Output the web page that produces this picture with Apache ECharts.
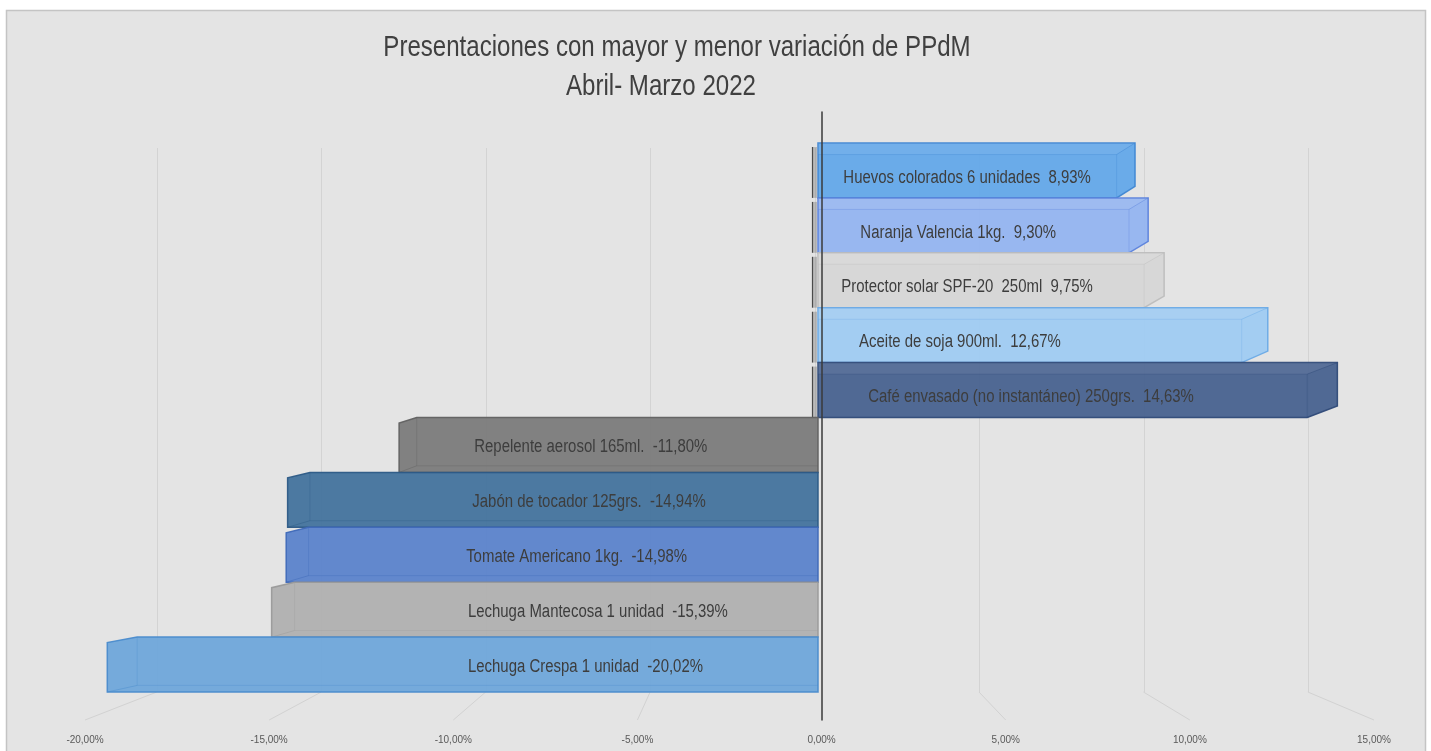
<!DOCTYPE html>
<html>
<head>
<meta charset="utf-8">
<script src="https://cdn.jsdelivr.net/npm/echarts@6/dist/echarts.min.js"></script>
<style>
html,body{margin:0;padding:0;background:#fff;}
#c{width:1431px;height:751px;}
</style>
</head>
<body>
<div id="c"></div>
<script>
// ---- data ----
const categories = [
  "Huevos colorados 6 unidades",
  "Naranja Valencia 1kg.",
  "Protector solar SPF-20  250ml",
  "Aceite de soja 900ml.",
  "Café envasado (no instantáneo) 250grs.",
  "Repelente aerosol 165ml.",
  "Jabón de tocador 125grs.",
  "Tomate Americano 1kg.",
  "Lechuga Mantecosa 1 unidad",
  "Lechuga Crespa 1 unidad"
];
const values = [8.93, 9.30, 9.75, 12.67, 14.63, -11.80, -14.94, -14.98, -15.39, -20.02];
const tickValues = [-20, -15, -10, -5, 0, 5, 10, 15];
const titleLines = ["Presentaciones con mayor y menor variación de PPdM", "Abril- Marzo 2022"];

// ---- styles / layout ----
const fills   = ['#63a8e9','#94b4f0','#d6d6d6','#9fcbf2','#48628f','#7b7b7b','#43739d','#5b83cb','#b0b0b0','#6fa6da'];
const borders = ['#3f86d2','#5b82dc','#bdbdbd','#6aaae6','#2f4a78','#616161','#2c5a86','#3f69b8','#9a9a9a','#4a8bcc'];
// where each data label is centred, in axis units (label placement only)
const labelAnchor = [4.2, 3.95, 4.2, 4.0, 6.0, -6.4, -6.45, -6.8, -6.2, -6.55];
const FONT = "'Liberation Sans',Arial,sans-serif";
const NARROW = 0.83;

function fmt(v){ return v.toFixed(2).replace('.', ',') + '%'; }

function renderBar(params, api){
  const i = params.dataIndex;
  const v = api.value(0);
  const c = api.value(1);
  const p0 = api.coord([0, c]);
  const p1 = api.coord([v, c]);
  const bh = api.size([0, 1])[1];
  const yT = p0[1] - bh/2, yB = p0[1] + bh/2;
  const x0 = p0[0], xE = p1[0];
  const len = Math.abs(xE - x0);
  const fill = fills[i], stroke = borders[i];
  const children = [];
  const text = categories[i] + '  ' + fmt(v);
  let ly;
  if (v >= 0) {
    const dx = len * 0.058, d = bh * 0.21;
    children.push({type:'polygon', shape:{points:[[x0,yT],[xE,yT],[xE,yB-d],[xE-dx,yB],[x0,yB]]},
      style:{fill:fill, stroke:stroke, lineWidth:1.5, opacity:0.95}});
    children.push({type:'polygon', shape:{points:[[x0,yT],[xE,yT],[xE-dx,yT+d],[x0,yT+d]]},
      style:{fill:'rgba(255,255,255,0.06)', stroke:'none'}});
    children.push({type:'polyline', shape:{points:[[x0,yT+d],[xE-dx,yT+d],[xE-dx,yB]]},
      style:{fill:'none', stroke:stroke, lineWidth:1, opacity:0.3}});
    children.push({type:'line', shape:{x1:xE-dx,y1:yT+d,x2:xE,y2:yT},
      style:{stroke:stroke, lineWidth:1, opacity:0.45}});
    children.push({type:'rect', shape:{x:x0-5,y:yT+4,width:4,height:yB-yT-4},
      style:{fill:'rgba(60,60,60,0.25)', stroke:'none'}});
    children.push({type:'line', shape:{x1:x0-5.5,y1:yT+4,x2:x0-5.5,y2:yB},
      style:{stroke:'#4a4a4a', lineWidth:1.2}});
    ly = (yT + d + yB) / 2 + 1.5;
  } else {
    const dx = len * 0.042, dT = bh * 0.1, dB = bh * 0.12;
    children.push({type:'polygon', shape:{points:[[x0,yT],[xE+dx,yT],[xE,yT+dT],[xE,yB],[x0,yB]]},
      style:{fill:fill, stroke:stroke, lineWidth:1.5, opacity:0.95}});
    children.push({type:'polyline', shape:{points:[[xE+dx,yT],[xE+dx,yB-dB],[x0,yB-dB]]},
      style:{fill:'none', stroke:stroke, lineWidth:1, opacity:0.3}});
    children.push({type:'line', shape:{x1:xE+dx,y1:yB-dB,x2:xE,y2:yB},
      style:{stroke:stroke, lineWidth:1, opacity:0.45}});
    ly = (yT + yB) / 2 + 2;
  }
  const lx = api.coord([labelAnchor[i], c])[0];
  children.push({type:'text', x:lx, y:ly, scaleX:NARROW,
    style:{text:text, x:0, y:0, align:'center', verticalAlign:'middle', fill:'#3d3d3d', font:'18px ' + FONT}});
  return {type:'group', children:children};
}

function renderPersp(params, api){
  const v = api.value(0);
  const f = api.coord([v, 0]);
  const z = api.coord([0, 0]);
  const bx = z[0] + (f[0] - z[0]) * 0.893 - 7;
  return {type:'line', shape:{x1:bx, y1:f[1]-28, x2:f[0], y2:f[1]},
    style:{stroke:'#d2d2d2', lineWidth:1}};
}

const chart = echarts.init(document.getElementById('c'), null, {renderer:'canvas'});
chart.setOption({
  backgroundColor:'#ffffff',
  animation:false,
  graphic:[
    {type:'rect', z:-10, shape:{x:6.5,y:10.5,width:1419,height:745},
      style:{fill:'#e4e4e4', stroke:'#c4c4c4', lineWidth:1.5}},
    {type:'text', z:10, x:677, y:48, scaleX:NARROW,
      style:{text:titleLines[0], x:0, y:0, align:'center', verticalAlign:'middle', font:'29px ' + FONT, fill:'#404040'}},
    {type:'text', z:10, x:661, y:87, scaleX:NARROW,
      style:{text:titleLines[1], x:0, y:0, align:'center', verticalAlign:'middle', font:'29px ' + FONT, fill:'#404040'}}
  ],
  grid:[
    {left:108, right:80.5, top:143, bottom:59},   // bars
    {left:85, right:57, top:112, bottom:31},      // front axis & labels
    {left:157, right:122.5, top:148, bottom:59}   // back gridlines
  ],
  xAxis:[
    {gridIndex:0, type:'value', min:-20, max:15, show:false},
    {gridIndex:1, type:'value', min:-20, max:15, interval:5,
      axisLine:{show:false}, axisTick:{show:false}, splitLine:{show:false},
      axisLabel:{margin:15, fontFamily:FONT, fontSize:10, color:'#595959', formatter:fmt}},
    {gridIndex:2, type:'value', min:-20, max:15, interval:5,
      axisLine:{show:false}, axisTick:{show:false}, axisLabel:{show:false},
      splitLine:{show:true, lineStyle:{color:'#d3d3d3', width:1}}}
  ],
  yAxis:[
    {gridIndex:0, type:'category', data:categories, inverse:true, show:false},
    {gridIndex:1, type:'value', min:0, max:1, z:10,
      axisLine:{show:true, onZero:true, lineStyle:{color:'#3a3a3a', width:1.5}},
      axisTick:{show:false}, axisLabel:{show:false}, splitLine:{show:false}},
    {gridIndex:2, type:'value', min:0, max:1, show:false}
  ],
  series:[
    {type:'custom', xAxisIndex:1, yAxisIndex:1, z:1,
      data: tickValues.filter(t => t !== 0).map(t => [t, 0]),
      renderItem: renderPersp, silent:true},
    {type:'custom', xAxisIndex:0, yAxisIndex:0, z:3,
      data: values.map((v, i) => [v, i]),
      encode:{x:0, y:1},
      renderItem: renderBar}
  ]
});
</script>
</body>
</html>
